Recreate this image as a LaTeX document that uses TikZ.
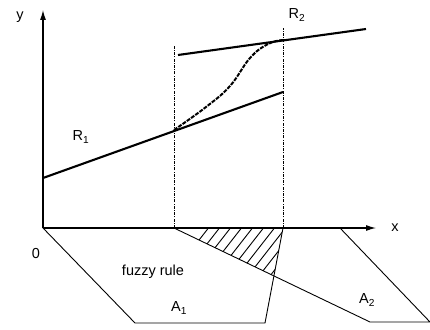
\documentclass[tikz,border=0pt]{standalone}
\usepackage{fontspec}
\setmainfont{Liberation Sans}
\usetikzlibrary{arrows.meta}
\begin{document}
\begin{tikzpicture}[x=1pt,y=-1pt,
  axis/.style={line width=1.1pt,-{Latex[length=10pt,width=6pt]}},
  thin line/.style={line width=0.9pt},
  thick line/.style={line width=2.1pt},
  guide/.style={line width=0.9pt,dash pattern=on 3pt off 1.2pt on 1pt off 1.2pt},
  curveline/.style={line width=2pt,dash pattern=on 4pt off 1.2pt},
  hatch/.style={line width=0.9pt},
  lab/.style={font=\fontsize{14.5}{17}\selectfont,inner sep=0pt}]
\useasboundingbox (0,0) rectangle (430,329);
% key points
\coordinate (O) at (43,228);
\coordinate (ytip) at (43,10);
\coordinate (xtip) at (376,228);
\coordinate (L) at (174,228);
\coordinate (Rt) at (283,228);
\coordinate (Ltop) at (174,45);
\coordinate (Rtop) at (283,28);
\coordinate (R1a) at (43,178);
\coordinate (R1b) at (283,92);
\coordinate (R2a) at (178,55);
\coordinate (R2b) at (366,29);
\coordinate (A1bl) at (135,323);
\coordinate (A1br) at (265,323);
\coordinate (A2bl) at (370,322);
\coordinate (A2br) at (430,322);
\coordinate (A2t) at (340,228);
\coordinate (X) at (274,276);
% hatching
\begin{scope}
  \clip (L) -- (Rt) -- (X) -- cycle;
  \foreach \i in {0,...,14} {
    \draw[hatch] ({160+\i*11},290) -- ({160+\i*11+50},226);
  }
\end{scope}
% axes
\draw[axis] (O) -- (ytip);
\draw[axis] (O) -- (xtip);
% guides
\draw[guide] (L) -- (Ltop);
\draw[guide] (Rt) -- (Rtop);
% lines
\draw[thick line] (R1a) -- (R1b);
\draw[thick line] (R2a) -- (R2b);
\draw[curveline] plot[smooth,tension=0.7] coordinates {(174,130) (206,107) (230,86) (250,58) (268,44) (283,40)};
% fuzzy sets
\draw[thin line] (O) -- (A1bl) -- (A1br) -- (Rt);
\draw[thin line] (L) -- (A2bl) -- (A2br) -- (A2t);
% labels
\node[lab] (ly) at (20,17) {y};
\node[lab] (lx) at (395,228) {x};
\node[lab] (l0) at (36,254) {0};
\node[lab] (lR1) at (81,137) {R\textsubscript{1}};
\node[lab] (lR2) at (297,15) {R\textsubscript{2}};
\node[lab] (lfr) at (153,272) {fuzzy rule};
\node[lab] (lA1) at (179,308) {A\textsubscript{1}};
\node[lab] (lA2) at (367,300) {A\textsubscript{2}};
\end{tikzpicture}
\end{document}
